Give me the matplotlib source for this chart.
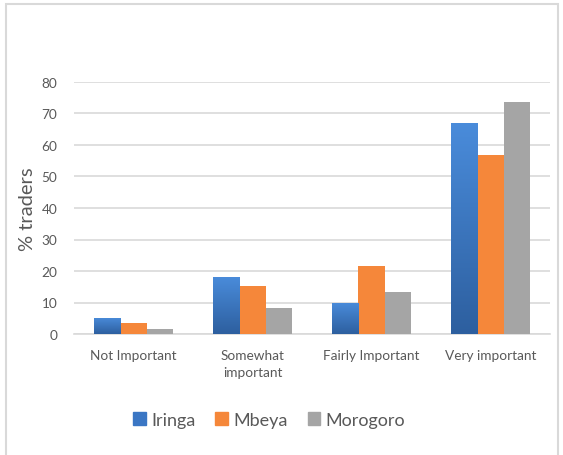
import numpy as np
import matplotlib
matplotlib.use("Agg")
import matplotlib.pyplot as plt
from matplotlib.patches import Rectangle

# data
categories = ["Not Important", "Somewhat\nimportant", "Fairly Important", "Very important"]
regions = ["Iringa", "Mbeya", "Morogoro"]
iringa = [5.1, 18.1, 10.0, 67.0]
mbeya = [3.5, 15.2, 21.5, 56.8]
morogoro = [1.5, 8.4, 13.2, 73.8]
yticks = [0, 10, 20, 30, 40, 50, 60, 70, 80]

plt.rcParams['font.family'] = ['Lato', 'DejaVu Sans']

fig = plt.figure(figsize=(5.63, 4.56), dpi=100)
ax = fig.add_axes([74 / 563, 1 - 335 / 456, 476 / 563, 252 / 456])

x = np.arange(len(categories))
w = 0.223
colors = ["#3a76c4", "#f5873a", "#a5a5a5"]
series = [iringa, mbeya, morogoro]

bars_all = []
for i, (vals, c, name) in enumerate(zip(series, colors, regions)):
    bars = ax.bar(x + (i - 1) * w, vals, w, color=c, label=name, zorder=3, linewidth=0)
    bars_all.append(bars)

# excel-like vertical gradient on the blue bars
grad = np.linspace(0, 1, 256).reshape(-1, 1)
cmap = matplotlib.colors.LinearSegmentedColormap.from_list("b", ["#2d5f9f", "#4a8cdb"])
for b in bars_all[0]:
    bx, by = b.get_x(), b.get_y()
    bw, bh = b.get_width(), b.get_height()
    im = ax.imshow(grad, cmap=cmap, aspect="auto", origin="lower",
                   extent=[bx, bx + bw, by, by + bh], zorder=4)
    im.set_clip_path(b)

ax.set_xlim(-0.5, 3.5)
ax.set_ylim(0, 80)
ax.set_yticks(yticks)
ax.set_xticks(x)
ax.set_xticklabels(categories, linespacing=1.45)
ax.grid(axis="y", color="#d9d9d9", linewidth=1.2, zorder=0)
ax.tick_params(length=0, labelsize=9.8, labelcolor="#595959")
ax.tick_params(axis="x", pad=11)
ax.tick_params(axis="y", pad=12)
for s in ["top", "right", "left"]:
    ax.spines[s].set_visible(False)
ax.spines["bottom"].set_color("#d9d9d9")
ax.spines["bottom"].set_linewidth(1.2)
ax.set_ylabel("% traders", fontsize=14.5, color="#595959", labelpad=4)

handles = [Rectangle((0, 0), 1, 1, color=c) for c in colors]
fig.legend(handles, regions, loc="center", bbox_to_anchor=(0.478, 1 - 421 / 456),
           ncol=3, frameon=False, fontsize=13, handlelength=0.7, handleheight=0.7,
           handletextpad=0.3, columnspacing=1.1, labelcolor="#595959")

# light frame round the chart
fig.patches.append(Rectangle((6 / 563, -0.05), 552 / 563, 1 - 5 / 456 + 0.05,
                             transform=fig.transFigure, fill=False,
                             edgecolor="#d9d9d9", linewidth=1.5))

fig.savefig("out.png", dpi=100)
